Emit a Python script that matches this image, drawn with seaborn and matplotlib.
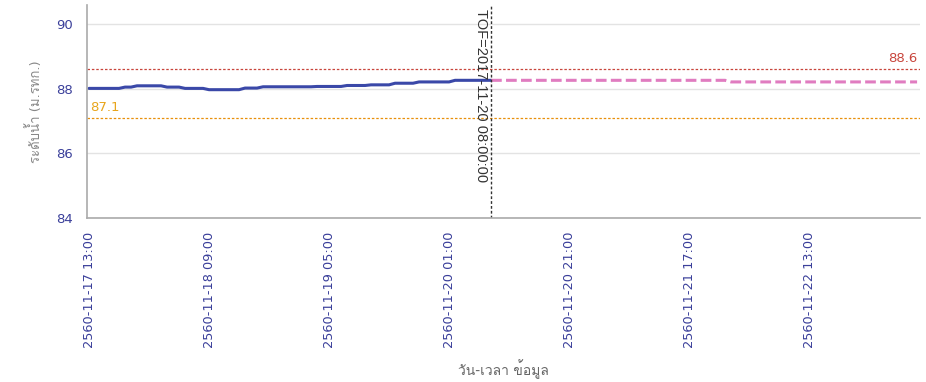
import pandas as pd
import matplotlib.pyplot as plt
from matplotlib import font_manager
from fontTools.ttLib import TTFont
import seaborn as sns

sns.set_style("white")


# look for an installed family that has Thai glyphs
def find_thai_family():
    for f in font_manager.fontManager.ttflist:
        try:
            font = TTFont(f.fname, fontNumber=0, lazy=True)
            cmap = font.getBestCmap() or {}
        except Exception:
            continue
        if 0x0E01 in cmap and 0x0E49 in cmap:
            return f.name
    return None


thai_family = find_thai_family()
families = ['DejaVu Sans']
if thai_family:
    families.append(thai_family)
plt.rcParams['font.family'] = families

# ----------------------------------------------------------
# Data (Buddhist year 2560 = 2017)
# ----------------------------------------------------------
obs_start = "2017-11-17 13:00"
# hourly observed water level, 2017-11-17 13:00 -> 2017-11-20 08:00
obs_level = [88.01, 88.01, 88.01, 88.01, 88.01, 88.01,
             88.05, 88.05,
             88.09, 88.09, 88.09, 88.09, 88.09,
             88.05, 88.05, 88.05,
             88.01, 88.01, 88.01, 88.01,
             87.97, 87.97, 87.97, 87.97, 87.97, 87.97,
             88.02, 88.02, 88.02,
             88.06, 88.06, 88.06, 88.06, 88.06, 88.06, 88.06,
             88.06, 88.06, 88.07, 88.07, 88.07, 88.07, 88.07,
             88.10, 88.10, 88.10, 88.10,
             88.12, 88.12, 88.12, 88.12,
             88.17, 88.17, 88.17, 88.17,
             88.21, 88.21, 88.21, 88.21, 88.21, 88.21,
             88.26, 88.26, 88.26, 88.26, 88.26, 88.26, 88.26]

fc_time = ["2017-11-20 08:00", "2017-11-21 23:00", "2017-11-22 00:00", "2017-11-23 07:00"]
fc_level = [88.26, 88.26, 88.21, 88.21]

upper_level = 88.6
lower_level = 87.1
tof_time = "2017-11-20 08:00"

tick_times = ["2017-11-17 13:00", "2017-11-18 09:00", "2017-11-19 05:00",
              "2017-11-20 01:00", "2017-11-20 21:00", "2017-11-21 17:00",
              "2017-11-22 13:00"]
tick_labels = ["2560-11-17 13:00", "2560-11-18 09:00", "2560-11-19 05:00",
               "2560-11-20 01:00", "2560-11-20 21:00", "2560-11-21 17:00",
               "2560-11-22 13:00"]

obs = pd.DataFrame({
    "time": pd.date_range(obs_start, periods=len(obs_level), freq="h"),
    "level": obs_level,
})
fc = pd.DataFrame({"time": pd.to_datetime(fc_time), "level": fc_level})

# ----------------------------------------------------------
# Plot
# ----------------------------------------------------------
fig = plt.figure(figsize=(9.26, 3.82), dpi=100)
ax = fig.add_axes([0.094, 0.4293, 0.8996, 0.5576])

ax.grid(axis="y", color="#e3e3e3", linewidth=1)
ax.set_axisbelow(True)

ax.axhline(upper_level, color="#c8453c", linestyle=(0, (2, 1.5)), linewidth=0.9)
ax.axhline(lower_level, color="#e8900c", linestyle=(0, (2, 1.5)), linewidth=0.9)

sns.lineplot(data=obs, x="time", y="level", ax=ax, color="#3a48a8", linewidth=2.2)
sns.lineplot(data=fc, x="time", y="level", ax=ax, color="#e07cc0", linewidth=2.2,
             linestyle=(0, (3.5, 1.4)))

tof = pd.Timestamp(tof_time)
ax.axvline(tof, color="#333333", linestyle=(0, (2, 1.5)), linewidth=1)
ax.text(tof - pd.Timedelta(hours=0.5), 90.46, "TOF=2017-11-20 08:00:00",
        rotation=270, ha="right", va="top", fontsize=10.5, color="#333333",
        family="Liberation Sans")

ax.text(pd.Timestamp("2017-11-23 07:00"), upper_level + 0.12, "88.6",
        ha="right", va="bottom", fontsize=9.5, color="#c8453c")
ax.text(pd.Timestamp("2017-11-17 13:15"), lower_level + 0.12, "87.1",
        ha="left", va="bottom", fontsize=9.5, color="#e8a51c")

ax.set_xlim(pd.Timestamp("2017-11-17 12:40"), pd.Timestamp("2017-11-23 07:30"))
ax.set_ylim(84, 90.59)
ax.set_yticks([84, 86, 88, 90])
ax.set_yticks([85, 87, 89], minor=True)
ax.set_xticks(pd.to_datetime(tick_times))
ax.set_xticklabels(tick_labels, rotation=90)

ax.tick_params(axis="both", which="both", direction="out", color="#aaaaaa",
               labelcolor="#3a3f9a", labelsize=9.3)
ax.tick_params(axis="y", which="major", length=4, pad=6, labelsize=9.5)
ax.tick_params(axis="y", which="minor", length=3)
ax.tick_params(axis="x", length=5, pad=5)

for side in ["top", "right"]:
    ax.spines[side].set_visible(False)
for side in ["left", "bottom"]:
    ax.spines[side].set_color("#aaaaaa")
    ax.spines[side].set_linewidth(1.2)

ax.set_xlabel("วัน-เวลา ข้อมูล", color="#666666", fontsize=10, labelpad=8)
ax.set_ylabel("ระดับน้ำ (ม.รทก.)", color="#888888", fontsize=9.5, labelpad=10)

fig.savefig("out.png", dpi=100)
